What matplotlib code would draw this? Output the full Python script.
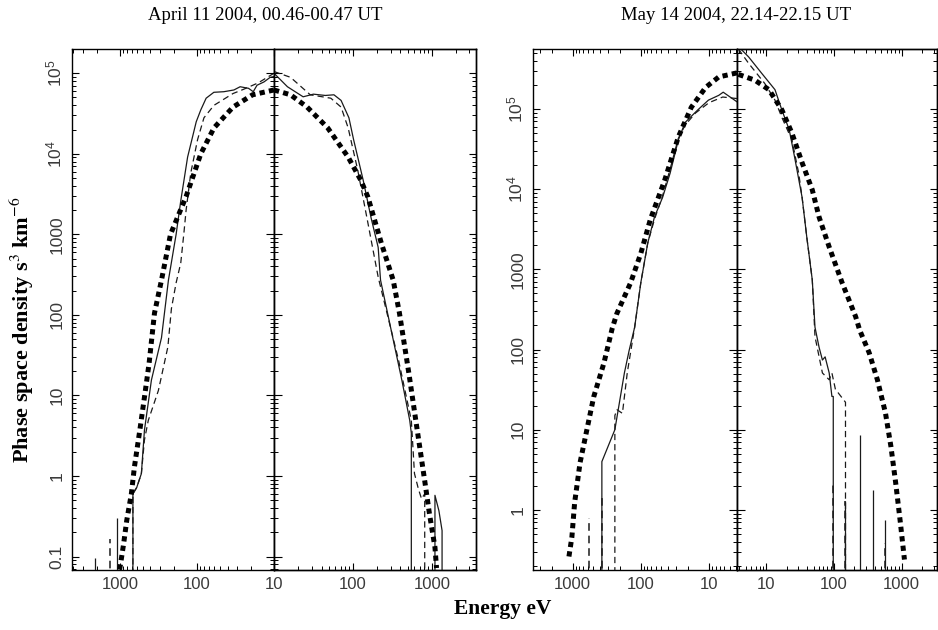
import numpy as np
import matplotlib
matplotlib.use("Agg")
import matplotlib.pyplot as plt
from matplotlib.ticker import LogLocator, NullFormatter

# ------------------------------------------------------------------
# DATA  (energy in eV, phase space density in s^3 km^-6)
# 1e-3 marks where a measured spectrum drops to zero (off the plot)
# ------------------------------------------------------------------
# ---- Panel 1: April 11 2004, left half (energy axis reversed) ----
apr_L_solid_E = [10, 11.2, 13.5, 16.6, 18.6, 21.4, 27.5, 33.1, 44.7, 60.3, 75.9, 89.1, 102, 132, 162, 186, 234, 288, 389, 479, 525, 603, 676, 676]
apr_L_solid_f = [91000, 89000, 78000, 71000, 59000, 65000, 68000, 62000, 59000, 58000, 49000, 35000, 25000, 9100, 2600, 1000, 270, 52, 15.5, 3.7, 1.07, 0.72, 0.60, 1e-3]
apr_L_dash_E = [10, 16, 25, 34, 60, 81, 98, 120, 138, 148, 162, 186, 214, 238, 316, 427, 479, 525, 603, 676, 676]
apr_L_dash_f = [100000, 76000, 63000, 56000, 40000, 28000, 15000, 5800, 2000, 1000, 440, 250, 120, 40, 11.5, 4.9, 2.8, 1.07, 0.72, 0.60, 1e-3]
apr_L_model_E = [10, 19, 34, 60, 89, 138, 220, 288, 355, 417, 479, 550, 646, 708, 813, 891, 977, 1023]
apr_L_model_f = [62000, 54000, 38000, 21000, 10000, 2950, 1000, 270, 105, 25, 9.5, 3.7, 1.3, 0.60, 0.28, 0.145, 0.081, 0.063]
apr_L_spike_solid_E = [1072, 2089]
apr_L_spike_solid_f = [0.30, 0.095]
apr_L_spike_dash_E = [1349]
apr_L_spike_dash_f = [0.166]

# ---- Panel 1: April 11 2004, right half ----
apr_R_solid_E = [10, 14.8, 23.4, 31.6, 44.7, 57.5, 70.8, 89, 102, 135, 170, 209, 224, 339, 417, 525, 550, 550]
apr_R_solid_f = [100000, 68000, 51000, 55000, 53000, 54000, 46000, 28000, 15000, 4700, 1600, 690, 270, 40, 15.5, 4.9, 3.4, 1e-3]
apr_R_solid2_E = [1096, 1096, 1230, 1349, 1349]
apr_R_solid2_f = [1e-3, 0.575, 0.37, 0.21, 1e-3]
apr_R_dash_E = [10, 16.2, 28.8, 52.5, 70.8, 87, 115, 155, 209, 380, 550, 603, 676, 741, 813, 813]
apr_R_dash_f = [105000, 89000, 54000, 49000, 38000, 21000, 6300, 1380, 295, 27, 4.9, 1.07, 0.69, 0.52, 0.60, 1e-3]
apr_R_model_E = [10, 16.2, 26.3, 47.9, 87, 126, 155, 229, 324, 389, 513, 646, 813, 933, 1096, 1148]
apr_R_model_f = [62000, 54000, 38000, 21000, 9100, 4700, 2900, 780, 270, 105, 18.6, 4.0, 0.87, 0.34, 0.13, 0.072]

# ---- Panel 2: May 14 2004, left half (energy axis reversed) ----
may_L_solid_E = [3.9, 6.2, 7.2, 10.2, 14.5, 22.4, 28.2, 37.2, 47.9, 63, 79, 100, 123, 148, 174, 240, 372, 372]
may_L_solid_f = [123000, 162000, 148000, 129000, 98000, 68000, 41000, 15800, 7900, 4500, 2140, 680, 190, 98, 51, 10, 4.0, 1e-3]
may_L_dash_E = [3.9, 6.3, 10, 15.8, 22.4, 28.2, 37.2, 47.9, 63, 79, 100, 123, 158, 186, 224, 240, 240]
may_L_dash_f = [135000, 141000, 120000, 89000, 63000, 43000, 17800, 8300, 4200, 2140, 680, 190, 51, 16, 17.8, 15, 1e-3]
may_L_model_E = [3.9, 7.2, 11.2, 18.2, 28.2, 44.7, 72.4, 100, 141, 224, 263, 347, 490, 617, 776, 933, 1023, 1148]
may_L_model_f = [282000, 251000, 186000, 105000, 44700, 12900, 4200, 1580, 680, 282, 182, 68, 25.7, 10, 3.9, 1.23, 0.46, 0.24]
may_L_spike_dash_E = [372, 575]
may_L_spike_dash_f = [1.6, 0.8]

# ---- Panel 2: May 14 2004, right half ----
may_R_solid_E = [3.9, 5.5, 8.5, 13.5, 17, 21.9, 26.3, 33.9, 39.8, 47.9, 52.5, 60.3, 67.6, 74.1, 85.1, 93.3, 97.7, 97.7]
may_R_solid_f = [600000, 447000, 282000, 174000, 98000, 55000, 25000, 7900, 2500, 740, 190, 107, 74, 81, 51, 26, 26, 1e-3]
may_R_dash_E = [3.9, 5.5, 9.5, 13.5, 17, 24, 30.2, 33.9, 39.8, 47.9, 52.5, 67.6, 85.1, 93.3, 105, 148, 148]
may_R_dash_f = [560000, 372000, 209000, 129000, 79000, 41000, 15800, 7900, 2500, 740, 145, 51, 42, 51, 32, 22, 1e-3]
may_R_model_E = [3.9, 6.8, 11, 17, 24, 33.9, 47.9, 60.3, 85.1, 132, 209, 240, 331, 437, 575, 692, 813, 955, 1096]
may_R_model_f = [270000, 229000, 174000, 98000, 50000, 21400, 9800, 4500, 1900, 680, 257, 174, 91, 42, 16.2, 6.2, 2.19, 0.69, 0.24]
may_R_spike_solid_E = [148, 240, 372, 575]
may_R_spike_solid_f = [1.3, 8.7, 1.75, 0.75]
may_R_spike_dash_E = [97.7, 148, 575]
may_R_spike_dash_f = [2.2, 1.3, 0.39]

# tick labels
x_major = [10, 100, 1000]
x_labels = ["10", "100", "1000"]
apr_y_ticks = [0.1, 1, 10, 100, 1000, 1e4, 1e5]
apr_y_labels = ["0.1", "1", "10", "100", "1000", r"$\mathregular{10^4}$", r"$\mathregular{10^5}$"]
may_y_ticks = [1, 10, 100, 1000, 1e4, 1e5]
may_y_labels = ["1", "10", "100", "1000", r"$\mathregular{10^4}$", r"$\mathregular{10^5}$"]

titles = ["April 11 2004, 00.46-00.47 UT", "May 14 2004, 22.14-22.15 UT"]
xlabel = "Energy eV"
ylabel = r"Phase space density s$^3$ km$^{-6}$"

# ------------------------------------------------------------------
plt.rcParams["mathtext.fontset"] = "custom"
plt.rcParams["mathtext.rm"] = "Liberation Sans"
plt.rcParams["mathtext.it"] = "Liberation Sans:italic"
plt.rcParams["mathtext.bf"] = "Liberation Sans:bold"

W, H = 938, 630
fig = plt.figure(figsize=(W / 100, H / 100), dpi=100)

ybot_px, ytop_px = 570, 49
b = (H - ybot_px) / H
h = (ybot_px - ytop_px) / H

LABEL_COLOR = "#3a3a3a"
SPINE_LW = 1.0
minor_loc = lambda: LogLocator(base=10, subs=np.arange(2, 10), numticks=40)


def make_half(x0, x1, xlim, ylim, side, yticks, ylabels, xlabels):
    ax = fig.add_axes([x0 / W, b, (x1 - x0) / W, h])
    ax.set_xscale("log")
    ax.set_yscale("log")
    ax.set_xlim(*xlim)
    ax.set_ylim(*ylim)
    for s in ax.spines.values():
        s.set_linewidth(SPINE_LW)
    # x axis
    ax.set_xticks(x_major, xlabels)
    ax.xaxis.set_minor_locator(minor_loc())
    ax.xaxis.set_minor_formatter(NullFormatter())
    ax.tick_params(axis="x", which="both", direction="in", top=True, bottom=True,
                   colors="black", labelcolor=LABEL_COLOR, labelsize=12, pad=5)
    ax.tick_params(axis="x", which="major", length=5, width=0.8)
    ax.tick_params(axis="x", which="minor", length=2.8, width=0.7)
    for t in ax.get_xticklabels():
        t.set_fontfamily("Liberation Sans")
    # y axis
    ax.yaxis.set_minor_locator(minor_loc())
    ax.yaxis.set_minor_formatter(NullFormatter())
    if side == "left":
        ax.set_yticks(yticks, ylabels)
        ax.tick_params(axis="y", which="both", direction="in", left=True, right=False,
                       labelleft=True, labelcolor=LABEL_COLOR, labelsize=12.5, pad=5.5)
        ax.tick_params(axis="y", which="major", length=5.2, width=0.8)
        ax.tick_params(axis="y", which="minor", length=2.8, width=0.7)
        for t in ax.get_yticklabels():
            t.set_rotation(90)
            t.set_va("center")
            t.set_ha("right")
            t.set_fontfamily("Liberation Sans")
    else:
        ax.set_yticks(yticks, [""] * len(yticks))
        ax.tick_params(axis="y", which="both", direction="inout", left=True, right=False,
                       labelleft=False)
        ax.tick_params(axis="y", which="major", length=11.5, width=0.8)
        ax.tick_params(axis="y", which="minor", length=6, width=0.7)
        tw = ax.twinx()
        tw.set_yscale("log")
        tw.set_ylim(*ylim)
        tw.set_yticks(yticks, [""] * len(yticks))
        tw.yaxis.set_minor_locator(minor_loc())
        tw.yaxis.set_minor_formatter(NullFormatter())
        tw.tick_params(axis="y", which="both", direction="in", right=True, labelright=False)
        tw.tick_params(axis="y", which="major", length=5.2, width=0.8)
        tw.tick_params(axis="y", which="minor", length=2.8, width=0.7)
        for s in tw.spines.values():
            s.set_linewidth(SPINE_LW)
    return ax


def draw(ax, solid, dash, model, spikes_solid=None, spikes_dash=None, extra_solid=None):
    ax.plot(solid[0], solid[1], color="#1a1a1a", lw=0.9, zorder=3)
    if extra_solid is not None:
        ax.plot(extra_solid[0], extra_solid[1], color="#1a1a1a", lw=0.9, zorder=3)
    ax.plot(dash[0], dash[1], color="#1a1a1a", lw=0.9, dashes=(5.0, 3.2), zorder=3)
    ax.plot(model[0], model[1], color="black", lw=3.6, dashes=(1.05, 0.85),
            dash_capstyle="butt", zorder=4)
    if spikes_solid is not None:
        ax.vlines(spikes_solid[0], 1e-3, spikes_solid[1], color="#1a1a1a", lw=0.9, zorder=3)
    if spikes_dash is not None:
        ax.vlines(spikes_dash[0], 1e-3, spikes_dash[1], color="#1a1a1a", lw=1.1,
                  linestyles=(0, (5.0, 3.2)), zorder=3)


# ---- Panel 1 ----
apr_ylim = (0.068, 2.0e5)
a1 = make_half(72, 274, (10 ** 3.62, 10), apr_ylim, "left", apr_y_ticks, apr_y_labels, x_labels)
a2 = make_half(274, 476, (10, 10 ** 3.56), apr_ylim, "right", apr_y_ticks, apr_y_labels, ["", "100", "1000"])
draw(a1, (apr_L_solid_E, apr_L_solid_f), (apr_L_dash_E, apr_L_dash_f), (apr_L_model_E, apr_L_model_f),
     (apr_L_spike_solid_E, apr_L_spike_solid_f), (apr_L_spike_dash_E, apr_L_spike_dash_f))
draw(a2, (apr_R_solid_E, apr_R_solid_f), (apr_R_dash_E, apr_R_dash_f), (apr_R_model_E, apr_R_model_f),
     extra_solid=(apr_R_solid2_E, apr_R_solid2_f))

# ---- Panel 2 ----
may_ylim = (0.178, 5.6e5)
a3 = make_half(533, 737, (10 ** 3.58, 10 ** 0.59), may_ylim, "left", may_y_ticks, may_y_labels, x_labels)
a4 = make_half(737, 937, (10 ** 0.57, 10 ** 3.52), may_ylim, "right", may_y_ticks, may_y_labels, x_labels)
draw(a3, (may_L_solid_E, may_L_solid_f), (may_L_dash_E, may_L_dash_f), (may_L_model_E, may_L_model_f),
     spikes_dash=(may_L_spike_dash_E, may_L_spike_dash_f))
draw(a4, (may_R_solid_E, may_R_solid_f), (may_R_dash_E, may_R_dash_f), (may_R_model_E, may_R_model_f),
     (may_R_spike_solid_E, may_R_spike_solid_f), (may_R_spike_dash_E, may_R_spike_dash_f))

# ---- Texts ----
fig.text(265 / W, 1 - 16 / H, titles[0], ha="center", va="center",
         fontsize=13.5, family="Liberation Serif")
fig.text(736 / W, 1 - 16 / H, titles[1], ha="center", va="center",
         fontsize=13.5, family="Liberation Serif")
fig.text(503 / W, 1 - 609 / H, xlabel, ha="center", va="center",
         fontsize=15.5, family="Liberation Serif", weight="bold")
fig.text(22 / W, 1 - 330 / H, ylabel, ha="center", va="center", rotation=90,
         fontsize=16, family="Liberation Serif", weight="bold", math_fontfamily="stix")

fig.savefig("out.png", dpi=100)
